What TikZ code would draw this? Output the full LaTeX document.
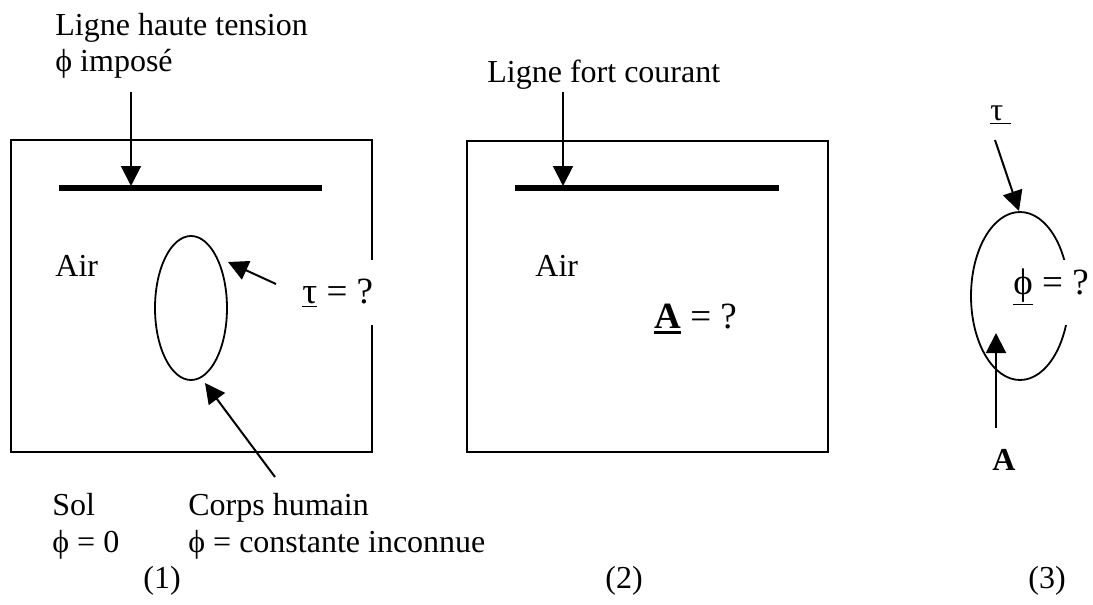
\documentclass[tikz,border=0pt]{standalone}
\usepackage{fontspec}
\setmainfont{Liberation Serif}
\usetikzlibrary{arrows.meta}
\newcommand\thickul[1]{\setbox0\hbox{#1}\rlap{\rule[-3.2pt]{\wd0}{1.5pt}}\box0\relax}
\begin{document}
\begin{tikzpicture}[x=0.5pt,y=-0.5pt,
 txt/.style={inner sep=0pt, font=\fontsize{16}{18}\selectfont},
 big/.style={inner sep=0pt, font=\fontsize{18.5}{20}\selectfont},
 frame/.style={draw, line width=0.9pt},
 wire/.style={line width=2.6pt},
 arr/.style={line width=1pt, -{Triangle[length=10pt,width=10pt]}},
 body/.style={line width=0.9pt},
 cover/.style={big, fill=white, inner xsep=2pt}]
\useasboundingbox (0,0) rectangle (1093,605);

% ---------- (1) ----------
\node[txt, anchor=base west] (lht) at (55,35) {Ligne haute tension};
\node[txt, anchor=base west] (phiimp) at (55,71) {ϕ imposé};
\draw[frame] (11,140) rectangle (372,452);
\coordinate (w1a) at (59,188);
\coordinate (w1b) at (322,188);
\draw[wire] (w1a) -- (w1b);
\coordinate (a1s) at (131,92);
\coordinate (a1e) at (131,186);
\draw[arr] (a1s) -- (a1e);
\node[txt, anchor=base west] (air1) at (55,276) {Air};
\draw[body] (191,308) ellipse [x radius=18pt, y radius=36pt];
\node[cover, anchor=base west, text height=21.5pt, text depth=11pt] (tau1) at (298,303) {\underline{τ} = ?};
\coordinate (t1s) at (276,284);
\coordinate (t1e) at (228,262);
\draw[arr] (t1s) -- (t1e);
\coordinate (c1s) at (275,477);
\coordinate (c1e) at (205,383);
\draw[arr] (c1s) -- (c1e);
\node[txt, anchor=base west] (sol) at (52,515) {Sol};
\node[txt, anchor=base west] (sol0) at (52,552) {ϕ = 0};
\node[txt, anchor=base west] (corps) at (188,515) {Corps humain};
\node[txt, anchor=base west] (corpsphi) at (188,552) {ϕ = constante inconnue};
\node[txt, anchor=base west] (n1) at (143,588) {(1)};

% ---------- (2) ----------
\node[txt, anchor=base west] (lfc) at (487,83) {Ligne fort courant};
\draw[frame] (467,141) rectangle (828,452);
\coordinate (w2a) at (515,188);
\coordinate (w2b) at (779,188);
\draw[wire] (w2a) -- (w2b);
\coordinate (a2s) at (563,92);
\coordinate (a2e) at (563,186);
\draw[arr] (a2s) -- (a2e);
\node[txt, anchor=base west] (air2) at (535,276) {Air};
\node[big, anchor=base west] (aq) at (654,328) {\thickul{\textbf{A}} = ?};
\node[txt, anchor=base west] (n2) at (605,588) {(2)};

% ---------- (3) ----------
\node[txt, anchor=base west] (tau3) at (990,120) {\underline{τ\hspace{4pt}}};
\draw[body] (1020,296) ellipse [x radius=24.5pt, y radius=42pt];
\node[cover, anchor=base west, text height=17pt, text depth=15.5pt] (phi3) at (1009,294) {\underline{ϕ} = ?};
\coordinate (t3s) at (995,140);
\coordinate (t3e) at (1019,211);
\draw[arr] (t3s) -- (t3e);
\coordinate (a3s) at (996,428);
\coordinate (a3e) at (996,333);
\draw[arr] (a3s) -- (a3e);
\node[txt, anchor=base west] (bA) at (992,470) {\textbf{A}};
\node[txt, anchor=base west] (n3) at (1028,588) {(3)};
\end{tikzpicture}
\end{document}
